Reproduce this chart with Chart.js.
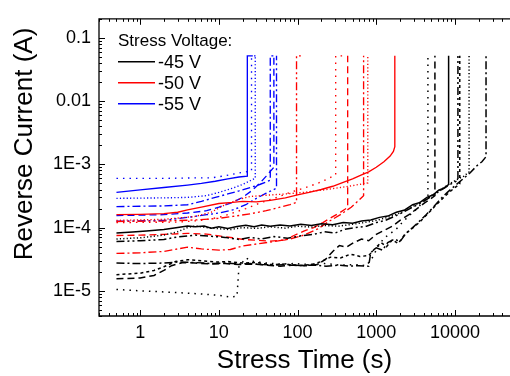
<!DOCTYPE html>
<html>
<head>
<meta charset="utf-8">
<script src="https://cdn.jsdelivr.net/npm/chart.js@4.4.1/dist/chart.umd.min.js"></script>
<style>
    html, body { margin: 0; padding: 0; background: #fff; }
    canvas { display: block; }
</style>
</head>
<body>
<canvas id="stressChart" width="510" height="376"></canvas>
<script>
// Tick values and legend text
const timeTicks = [1, 10, 100, 1000, 10000];
const currentTicks = [1e-5, 1e-4, 1e-3, 0.01, 0.1];
const voltageLabels = ["-45 V", "-50 V", "-55 V"];

// Reverse current vs stress time, [t (s), I (A)]; last points are the breakdown jump
// -45 V
const k45Solid = [[0.5,8.2e-5],[0.8,8.5e-5],[1.2,8.8e-5],[2,9.3e-5],[3,1.0e-4],[4,1.06e-4],[5,1.03e-4],[6.5,1.06e-4],[8,9.8e-5],[10,1.03e-4],[13,9.7e-5],[17,1.04e-4],[22,1.09e-4],[28,1.03e-4],[35,1.1e-4],[45,1.05e-4],[60,1.1e-4],[80,1.06e-4],[110,1.13e-4],[150,1.08e-4],[200,1.15e-4],[280,1.11e-4],[380,1.2e-4],[500,1.17e-4],[650,1.27e-4],[850,1.32e-4],[1100,1.45e-4],[1400,1.52e-4],[1800,1.75e-4],[2300,1.9e-4],[2900,2.3e-4],[3600,2.5e-4],[4400,3.0e-4],[5300,3.3e-4],[6200,3.9e-4],[7200,4.2e-4],[8300,4.8e-4],[8300,0.052]];
const k45ShortDot = [[0.5,6.6e-5],[1,6.9e-5],[2,7.6e-5],[3,8.6e-5],[4,1.0e-4],[5,1.06e-4],[7,1.0e-4],[10,9.6e-5],[14,9.3e-5],[20,1.0e-4],[30,9.7e-5],[45,1.03e-4],[70,9.8e-5],[100,1.05e-4],[150,1.02e-4],[220,1.08e-4],[330,1.05e-4],[480,1.12e-4],[700,1.2e-4],[1000,1.3e-4],[1400,1.45e-4],[2000,1.7e-4],[2800,2.1e-4],[3800,2.6e-4],[5000,3.2e-4],[6500,3.9e-4],[8500,4.9e-4],[11000,5.9e-4],[13000,6.5e-4],[15100,7.6e-4],[15100,0.052]];
const k45DashDotDot = [[0.5,6.0e-5],[1,6.2e-5],[2,6.5e-5],[3,7.1e-5],[5,7.6e-5],[8,7.3e-5],[12,7.0e-5],[18,6.5e-5],[25,7.0e-5],[35,6.6e-5],[50,7.2e-5],[75,6.8e-5],[110,7.4e-5],[160,7.8e-5],[220,8.6e-5],[300,8.2e-5],[400,9.4e-5],[550,1.0e-4],[750,1.05e-4],[1000,1.2e-4],[1300,1.3e-4],[1700,1.5e-4],[2200,1.75e-4],[2900,2.1e-4],[3800,2.5e-4],[4800,3.0e-4],[6000,3.6e-4],[7500,4.3e-4],[9200,5.0e-4],[10900,5.6e-4],[10900,0.052]];
const k45DashDot = [[0.5,2.75e-5],[1,2.7e-5],[2,2.75e-5],[3,2.85e-5],[5,2.8e-5],[8,2.7e-5],[12,2.75e-5],[18,2.65e-5],[25,2.7e-5],[35,2.6e-5],[50,2.55e-5],[75,2.6e-5],[110,2.5e-5],[160,2.55e-5],[230,2.45e-5],[330,2.55e-5],[450,2.45e-5],[600,2.5e-5],[800,2.45e-5],[850,4.0e-5],[1000,4.8e-5],[1200,4.4e-5],[1400,5.8e-5],[1700,6.6e-5],[2000,6.0e-5],[2400,8.2e-5],[2900,1.0e-4],[3500,1.25e-4],[4300,1.6e-4],[5300,2.1e-4],[6500,2.8e-4],[8000,3.6e-4],[10000,4.6e-4],[12500,5.8e-4],[15500,7.3e-4],[19000,9.5e-4],[22000,1.1e-3],[24800,1.32e-3],[24800,0.052]];
const k45ShortDash = [[0.5,1.8e-5],[1,1.9e-5],[1.5,2.1e-5],[2,2.4e-5],[2.8,2.9e-5],[4,3.1e-5],[6,3.0e-5],[9,2.85e-5],[13,2.9e-5],[20,2.75e-5],[30,2.8e-5],[45,2.6e-5],[70,2.65e-5],[100,2.5e-5],[150,2.6e-5],[200,2.9e-5],[260,3.4e-5],[350,3.3e-5],[470,3.8e-5],[620,3.5e-5],[800,3.6e-5],[950,4.6e-5],[1150,5.8e-5],[1350,5.0e-5],[1600,6.4e-5],[1900,5.6e-5],[2300,7.8e-5],[2800,9.5e-5],[3500,1.2e-4],[4500,1.65e-4],[5800,2.3e-4],[7400,3.1e-4],[9300,4.0e-4],[11500,4.9e-4],[11500,0.052]];
const k45Dash = [[0.5,1.55e-5],[1,1.6e-5],[1.5,1.75e-5],[2,2.1e-5],[2.5,2.5e-5],[3.5,2.8e-5],[5,2.75e-5],[8,2.65e-5],[12,2.7e-5],[18,2.6e-5],[28,2.65e-5],[40,2.55e-5],[60,2.45e-5],[90,2.55e-5],[130,2.5e-5],[180,2.6e-5],[230,3.2e-5],[280,4.2e-5],[340,5.2e-5],[420,4.9e-5],[520,5.8e-5],[650,6.6e-5],[800,6.2e-5],[1000,7.8e-5],[1250,9.0e-5],[1600,1.05e-4],[2000,1.3e-4],[2600,1.6e-4],[3300,2.0e-4],[4200,2.5e-4],[5000,2.9e-4],[5560,3.2e-4],[5560,0.052]];
const k45Dot = [[0.5,1.05e-5],[1,1.0e-5],[2,9.6e-6],[4,9.2e-6],[7,8.8e-6],[10,8.5e-6],[14,8.0e-6],[17,8.2e-6],[18,2.4e-5],[22,3.3e-5],[28,2.9e-5],[40,2.75e-5],[60,2.65e-5],[90,2.7e-5],[140,2.6e-5],[220,2.7e-5],[350,2.55e-5],[550,2.6e-5],[750,2.5e-5],[900,3.4e-5],[1050,5.0e-5],[1250,6.8e-5],[1500,8.0e-5],[1800,9.5e-5],[2200,1.25e-4],[2700,1.6e-4],[3300,2.0e-4],[3900,2.5e-4],[4530,3.2e-4],[4530,0.052]];

// -50 V
const k50Solid = [[0.5,1.6e-4],[1,1.62e-4],[2,1.66e-4],[3,1.75e-4],[4,1.9e-4],[6,2.1e-4],[10,2.4e-4],[15,2.5e-4],[20,2.6e-4],[30,2.55e-4],[45,2.7e-4],[70,2.95e-4],[100,3.3e-4],[140,3.6e-4],[200,4.0e-4],[280,4.5e-4],[380,5.2e-4],[500,5.9e-4],[650,6.8e-4],[800,7.6e-4],[1000,9.0e-4],[1250,1.1e-3],[1500,1.35e-3],[1650,1.6e-3],[1720,1.9e-3],[1720,0.052]];
const k50ShortDot = [[0.5,1.3e-4],[2,1.35e-4],[5,1.5e-4],[8,1.75e-4],[12,2.3e-4],[18,2.8e-4],[25,3.1e-4],[40,3.25e-4],[70,3.4e-4],[120,3.6e-4],[200,3.9e-4],[350,4.3e-4],[550,4.7e-4],[780,5.1e-4],[780,0.052]];
const k50Dot = [[0.5,1.2e-4],[3,1.22e-4],[6,1.3e-4],[10,1.45e-4],[15,1.7e-4],[22,2.0e-4],[35,2.5e-4],[55,3.0e-4],[80,3.6e-4],[120,4.2e-4],[180,5.0e-4],[250,6.0e-4],[305,6.9e-4],[305,0.052],[420,0.052]];
const k50DashDotDot = [[0.5,1.25e-4],[2,1.27e-4],[5,1.32e-4],[10,1.4e-4],[15,1.5e-4],[25,1.65e-4],[40,1.85e-4],[60,2.1e-4],[80,2.3e-4],[97,2.5e-4],[97,0.052],[110,0.052]];
const k50Dash = [[0.5,7.5e-5],[1,7.6e-5],[2,7.8e-5],[4,8.1e-5],[7,7.9e-5],[10,7.4e-5],[15,6.9e-5],[20,6.5e-5],[30,6.3e-5],[45,6.1e-5],[70,6.4e-5],[90,7.5e-5],[120,8.8e-5],[160,1.0e-4],[210,1.2e-4],[270,1.45e-4],[340,1.7e-4],[400,1.95e-4],[433,2.1e-4],[433,0.052]];
const k50DashDot = [[0.5,3.9e-5],[1,4.0e-5],[2,4.2e-5],[3,4.6e-5],[4,4.9e-5],[6,4.6e-5],[10,4.4e-5],[14,4.5e-5],[20,5.1e-5],[30,5.5e-5],[50,6.0e-5],[80,6.6e-5],[120,7.6e-5],[180,9.5e-5],[250,1.25e-4],[350,1.6e-4],[480,2.1e-4],[600,2.7e-4],[690,3.2e-4],[690,0.052]];

// -55 V
const k55Solid = [[0.5,3.6e-4],[1,3.95e-4],[2,4.3e-4],[4,4.7e-4],[6,5.0e-4],[9,5.4e-4],[13,5.9e-4],[18,6.3e-4],[23,6.5e-4],[23,0.052],[27,0.052]];
const k55Dot = [[0.5,6.0e-4],[2,6.0e-4],[5,6.1e-4],[8,6.1e-4],[12,6.6e-4],[17,7.2e-4],[22,7.6e-4],[26,7.8e-4],[26,0.052],[30,0.052]];
const k55ShortDot = [[0.5,2.9e-4],[2,2.95e-4],[4,3.0e-4],[7,3.2e-4],[10,3.6e-4],[15,4.2e-4],[20,4.8e-4],[25,5.5e-4],[29,6.0e-4],[29,0.052]];
const k55DashDot = [[0.5,2.15e-4],[2,2.2e-4],[4,2.3e-4],[6,2.6e-4],[9,3.0e-4],[13,3.4e-4],[18,3.8e-4],[25,4.3e-4],[33,4.8e-4],[45,5.6e-4],[45,0.052],[50,0.052]];
const k55Dash = [[0.5,1.55e-4],[2,1.6e-4],[4,1.7e-4],[7,1.85e-4],[10,2.1e-4],[15,2.5e-4],[20,3.0e-4],[26,3.8e-4],[33,5.0e-4],[40,6.5e-4],[50,9.0e-4],[50,0.052]];
const k55DashDotDot = [[0.5,1.26e-4],[2,1.3e-4],[4,1.45e-4],[7,1.6e-4],[10,1.7e-4],[15,1.9e-4],[22,2.3e-4],[30,2.9e-4],[40,3.5e-4],[54,4.2e-4],[54,0.052]];

const FONT = '"Liberation Sans", Arial, sans-serif';
const BLACK = "#000000";
const RED = "#ff0000";
const BLUE = "#0000ff";

const dashes = {
    solid: [],
    dash: [7, 4],
    shortDash: [3, 3],
    dot: [1.5, 5],
    shortDot: [1.2, 2.2],
    dashDot: [8, 3, 2, 3],
    dashDotDot: [8, 3, 2, 3, 2, 3],
};

const curves = [
    { pts: k45Solid, color: BLACK, dash: dashes.solid },
    { pts: k45ShortDot, color: BLACK, dash: dashes.shortDot },
    { pts: k45DashDotDot, color: BLACK, dash: dashes.dashDotDot },
    { pts: k45DashDot, color: BLACK, dash: dashes.dashDot },
    { pts: k45ShortDash, color: BLACK, dash: dashes.shortDash },
    { pts: k45Dash, color: BLACK, dash: dashes.dash },
    { pts: k45Dot, color: BLACK, dash: dashes.dot },
    { pts: k50Solid, color: RED, dash: dashes.solid },
    { pts: k50ShortDot, color: RED, dash: dashes.shortDot },
    { pts: k50Dot, color: RED, dash: dashes.dot },
    { pts: k50DashDotDot, color: RED, dash: dashes.dashDotDot },
    { pts: k50Dash, color: RED, dash: dashes.dash },
    { pts: k50DashDot, color: RED, dash: dashes.dashDot },
    { pts: k55Solid, color: BLUE, dash: dashes.solid },
    { pts: k55Dot, color: BLUE, dash: dashes.dot },
    { pts: k55ShortDot, color: BLUE, dash: dashes.shortDot },
    { pts: k55DashDot, color: BLUE, dash: dashes.dashDot },
    { pts: k55Dash, color: BLUE, dash: dashes.dash },
    { pts: k55DashDotDot, color: BLUE, dash: dashes.dashDotDot },
];

function formatCurrent(v) {
    const e = Math.round(Math.log10(v));
    return e >= -2 ? String(v) : "1E" + e;
}

// all 1..9 x 10^n positions inside [min, max]
function logTickList(min, max) {
    const list = [];
    for (let e = Math.floor(Math.log10(min)); e <= Math.ceil(Math.log10(max)); e++) {
        for (let k = 1; k <= 9; k++) {
            const v = k * Math.pow(10, e);
            if (v >= min && v <= max) list.push({ v: v, major: k === 1 });
        }
    }
    return list;
}

// Frame with inward ticks, axis titles and the inset legend
const frameAndLabels = {
    id: "frameAndLabels",
    afterDraw(chart) {
        const { ctx, chartArea: a, scales } = chart;
        const x = scales.x;
        const y = scales.y;

        ctx.save();
        ctx.strokeStyle = "#000";
        ctx.lineWidth = 1.3;
        ctx.beginPath();
        ctx.moveTo(a.right + 2, a.top);
        ctx.lineTo(a.left, a.top);
        ctx.lineTo(a.left, a.bottom);
        ctx.lineTo(a.right + 2, a.bottom);
        ctx.stroke();

        ctx.lineWidth = 1;
        ctx.beginPath();
        logTickList(x.min, x.max).forEach((t) => {
            const px = Math.round(x.getPixelForValue(t.v)) + 0.5;
            const len = t.major ? 6 : 3;
            ctx.moveTo(px, a.bottom);
            ctx.lineTo(px, a.bottom - len);
            ctx.moveTo(px, a.top);
            ctx.lineTo(px, a.top + len);
        });
        logTickList(y.min, y.max).forEach((t) => {
            const py = Math.round(y.getPixelForValue(t.v)) + 0.5;
            const len = t.major ? 6 : 3;
            ctx.moveTo(a.left, py);
            ctx.lineTo(a.left + len, py);
        });
        ctx.stroke();

        // axis titles
        ctx.fillStyle = "#000";
        ctx.font = "26px " + FONT;
        ctx.textAlign = "center";
        ctx.textBaseline = "alphabetic";
        ctx.fillText("Stress Time (s)", (a.left + a.right) / 2, 368);

        ctx.save();
        ctx.translate(32, 144);
        ctx.rotate(-Math.PI / 2);
        ctx.fillText("Reverse Current (A)", 0, 0);
        ctx.restore();

        // legend
        const lx = a.left + 19;
        ctx.textAlign = "left";
        ctx.font = "17px " + FONT;
        ctx.fillText("Stress Voltage:", lx, a.top + 27);
        const legendColors = [BLACK, RED, BLUE];
        ctx.textBaseline = "middle";
        ctx.font = "18px " + FONT;
        voltageLabels.forEach((label, i) => {
            const ly = a.top + 43 + i * 21;
            ctx.strokeStyle = legendColors[i];
            ctx.lineWidth = 1.6;
            ctx.beginPath();
            ctx.moveTo(lx, ly);
            ctx.lineTo(lx + 37, ly);
            ctx.stroke();
            ctx.fillText(label, lx + 40, ly + 1);
        });
        ctx.restore();
    },
};

const datasets = curves.map((c) => ({
    data: c.pts.map(([t, i]) => ({ x: t, y: i })),
    borderColor: c.color,
    borderDash: c.dash,
    borderWidth: c.color === BLACK ? 1.5 : 1.35,
    pointRadius: 0,
    tension: 0,
    fill: false,
}));

new Chart(document.getElementById("stressChart").getContext("2d"), {
    type: "line",
    data: { datasets: datasets },
    options: {
        responsive: false,
        animation: false,
        layout: { padding: { top: 9, right: 0, bottom: 0, left: 0 } },
        plugins: {
            legend: { display: false },
            tooltip: { enabled: false },
        },
        scales: {
            x: {
                type: "logarithmic",
                min: 0.3,
                max: 50000,
                grid: { display: false, drawTicks: false },
                border: { display: false },
                afterBuildTicks: (scale) => {
                    scale.ticks = timeTicks.map((v) => ({ value: v }));
                },
                afterFit: (scale) => {
                    scale.height = 60;
                },
                ticks: {
                    autoSkip: false,
                    maxRotation: 0,
                    padding: 6,
                    color: "#000",
                    font: { size: 18, family: FONT },
                    callback: (v) => String(v),
                },
            },
            y: {
                type: "logarithmic",
                min: 4e-6,
                max: 0.2,
                grid: { display: false, drawTicks: false },
                border: { display: false },
                afterBuildTicks: (scale) => {
                    scale.ticks = currentTicks.map((v) => ({ value: v }));
                },
                afterFit: (scale) => {
                    scale.width = 99;
                },
                ticks: {
                    autoSkip: false,
                    padding: 8,
                    color: "#000",
                    font: { size: 18, family: FONT },
                    callback: (v) => formatCurrent(v),
                },
            },
        },
    },
    plugins: [frameAndLabels],
});
</script>
</body>
</html>
